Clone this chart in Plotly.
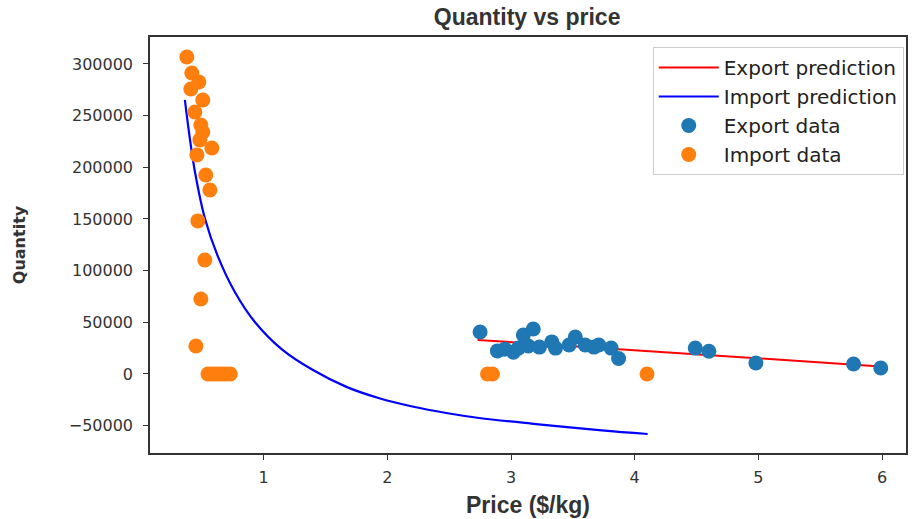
import plotly.graph_objects as go

# Export data (price $/kg, quantity)
export_price = [2.75, 2.89, 2.95, 3.02, 3.06, 3.10, 3.14, 3.18, 3.23, 3.33, 3.36, 3.47,
                3.52, 3.60, 3.67, 3.71, 3.81, 3.87, 4.49, 4.60, 4.98, 5.77, 5.99]
export_qty = [40600, 22300, 24000, 21000, 25000, 37700, 27000, 43500, 26000, 31000, 25000, 28000,
              35800, 28000, 26000, 28000, 25000, 15000, 25000, 22000, 10600, 9700, 5800]

# Import data
import_price = [0.379, 0.419, 0.476, 0.411, 0.508, 0.444, 0.492, 0.508, 0.484, 0.581, 0.460,
                0.532, 0.565, 0.468, 0.524, 0.492, 0.452,
                0.55, 0.58, 0.61, 0.64, 0.67, 0.70, 0.73, 2.81, 2.85, 4.10]
import_qty = [306800, 291300, 282600, 275800, 265200, 253500, 241000, 234200, 226500, 218700, 212000,
              192600, 178100, 148100, 110300, 72600, 27100,
              0, 0, 0, 0, 0, 0, 0, 0, 0, 0]

# Export prediction line (read endpoints)
export_pred_price = [2.73, 5.99]
export_pred_qty = [32900, 7300]

# Import prediction curve
import_pred_price = [0.363, 0.403, 0.444, 0.524, 0.629, 0.766, 0.927, 1.145, 1.395, 1.669,
                     1.935, 2.202, 2.476, 2.742, 3.202, 3.734, 4.105]
import_pred_qty = [265200, 228000, 196000, 151000, 114000, 79500, 50500, 24000, 4000, -12500,
                   -23500, -31500, -37800, -42600, -48500, -54600, -58100]

x_ticks = [1, 2, 3, 4, 5, 6]
y_ticks = [-50000, 0, 50000, 100000, 150000, 200000, 250000, 300000]

fig = go.Figure()
fig.add_trace(go.Scatter(x=export_pred_price, y=export_pred_qty, mode="lines",
                         name="Export prediction", line=dict(color="red", width=2)))
fig.add_trace(go.Scatter(x=import_pred_price, y=import_pred_qty, mode="lines",
                         name="Import prediction", line=dict(color="blue", width=2.2, shape="spline")))
fig.add_trace(go.Scatter(x=export_price, y=export_qty, mode="markers", name="Export data",
                         marker=dict(color="#1f77b4", size=15, line=dict(width=0))))
fig.add_trace(go.Scatter(x=import_price, y=import_qty, mode="markers", name="Import data",
                         marker=dict(color="#ff7f0e", size=15, line=dict(width=0))))

axis_common = dict(showgrid=False, zeroline=False, showline=True, linecolor="#333333",
                   linewidth=1.5, mirror=True, ticks="outside", ticklen=5, tickcolor="#333333",
                   tickfont=dict(family="DejaVu Sans", size=16, color="#333333"))

fig.update_layout(
    width=912, height=519,
    margin=dict(l=150, r=4, t=37, b=66),
    paper_bgcolor="white", plot_bgcolor="white",
    title=dict(text="<b>Quantity vs price</b>", x=0.578, xanchor="center",
               y=1 - 9 / 519, yanchor="top", yref="container", pad=dict(t=0, b=0),
               font=dict(family="Liberation Sans", size=23, color="#333333")),
    xaxis=dict(range=[0.081, 6.194], tickvals=x_ticks, ticklabelstandoff=4,
               title=dict(text="<b>Price ($/kg)</b>", standoff=11,
                          font=dict(family="Liberation Sans", size=23, color="#333333")),
               **axis_common),
    yaxis=dict(range=[-76500, 326100], tickvals=y_ticks, tickformat="d", ticklabelstandoff=7,
               title=dict(text="<b>Quantity</b>", standoff=39,
                          font=dict(family="DejaVu Sans", size=16, color="#333333")),
               **axis_common),
    legend=dict(x=0.997, y=0.976, xanchor="right", yanchor="top",
                bgcolor="white", bordercolor="#cccccc", borderwidth=1,
                font=dict(family="DejaVu Sans", size=20, color="#222222"),
                itemwidth=60, tracegroupgap=0),
    showlegend=True,
)

fig.write_html("out.html", config={"displayModeBar": False},
               post_script="document.body.style.margin='0';document.body.style.overflow='hidden';")
